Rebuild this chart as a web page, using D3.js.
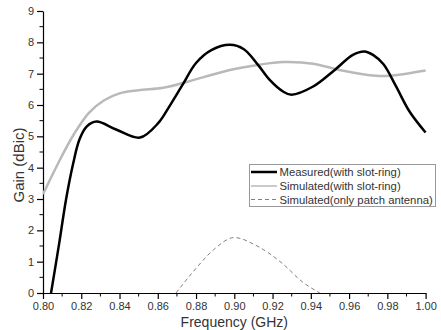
<!DOCTYPE html>
<html>
<head>
<meta charset="utf-8">
<script src="https://cdn.jsdelivr.net/npm/d3@7"></script>
<style>
  html, body { margin: 0; padding: 0; background: #fff; }
  svg { display: block; font-family: "Liberation Sans", Arial, sans-serif; }
</style>
</head>
<body>
<svg id="chart" width="441" height="330"></svg>
<script>
// ---- data ----
const measuredFreq = [0.8042, 0.8085, 0.812, 0.8158, 0.819, 0.8228, 0.828, 0.8385, 0.8507, 0.8602, 0.866, 0.873, 0.880, 0.888, 0.8977, 0.905, 0.9124, 0.9185, 0.9255, 0.9299, 0.9412, 0.9525, 0.962, 0.968, 0.9725, 0.978, 0.9845, 0.9915, 1.0];
const measuredGain = [0, 1.6, 2.97, 4.14, 4.89, 5.31, 5.47, 5.21, 4.96, 5.42, 5.95, 6.65, 7.34, 7.75, 7.92, 7.78, 7.28, 6.8, 6.43, 6.33, 6.59, 7.12, 7.6, 7.71, 7.6, 7.3, 6.6, 5.8, 5.12];

const simRingFreq = [0.800, 0.808, 0.816, 0.824, 0.832, 0.840, 0.850, 0.8628, 0.873, 0.8977, 0.9124, 0.9255, 0.9412, 0.955, 0.9742, 0.9812, 1.0];
const simRingGain = [3.15, 4.15, 5.05, 5.75, 6.15, 6.37, 6.47, 6.55, 6.70, 7.12, 7.28, 7.37, 7.32, 7.12, 6.93, 6.93, 7.10];

const simPatchFreq = [0.8695, 0.8785, 0.889, 0.900, 0.911, 0.925, 0.9355, 0.9447];
const simPatchGain = [0, 0.68, 1.37, 1.77, 1.53, 0.95, 0.36, 0];

const xTicks = [0.80, 0.82, 0.84, 0.86, 0.88, 0.90, 0.92, 0.94, 0.96, 0.98, 1.00];
const yTicks = [0, 1, 2, 3, 4, 5, 6, 7, 8, 9];
const legendLabels = ["Measured(with slot-ring)", "Simulated(with slot-ring)", "Simulated(only patch antenna)"];

// ---- layout ----
const svg = d3.select("#chart");
const pLeft = 43, pRight = 425.6, pTop = 11, pBottom = 293;
const x = d3.scaleLinear().domain([0.80, 1.00]).range([pLeft, pRight]);
const y = d3.scaleLinear().domain([0, 9]).range([pBottom, pTop]);

const textColor = "#333";

// minor ticks
const xMinor = d3.range(0, 21).map(i => 0.80 + i * 0.01).filter((v, i) => i % 2 === 1);
const yMinor = d3.range(0, 9).map(i => i + 0.5);

svg.append("g").selectAll("line").data(xMinor).join("line")
  .attr("x1", d => x(d)).attr("x2", d => x(d))
  .attr("y1", pBottom).attr("y2", pBottom + 3.5)
  .attr("stroke", "#000").attr("stroke-width", 1);
svg.append("g").selectAll("line").data(yMinor).join("line")
  .attr("y1", d => y(d)).attr("y2", d => y(d))
  .attr("x1", pLeft).attr("x2", pLeft - 3.5)
  .attr("stroke", "#000").attr("stroke-width", 1);

// axes
const xAxis = svg.append("g").attr("transform", `translate(0,${pBottom})`)
  .call(d3.axisBottom(x).tickValues(xTicks).tickFormat(d3.format(".2f")).tickSize(6).tickPadding(3).tickSizeOuter(0));
const yAxis = svg.append("g").attr("transform", `translate(${pLeft},0)`)
  .call(d3.axisLeft(y).tickValues(yTicks).tickFormat(d3.format("d")).tickSize(6).tickPadding(3).tickSizeOuter(0));
[xAxis, yAxis].forEach(a => {
  a.select(".domain").attr("stroke", "#000").attr("stroke-width", 1.2);
  a.selectAll(".tick line").attr("stroke", "#000").attr("stroke-width", 1.2);
  a.selectAll(".tick text").attr("fill", textColor).attr("font-size", 11)
    .attr("font-family", "Liberation Sans, Arial, sans-serif");
});

// axis titles
svg.append("text")
  .attr("x", (pLeft + pRight) / 2).attr("y", 326.5)
  .attr("text-anchor", "middle").attr("font-size", 14).attr("fill", textColor)
  .text("Frequency (GHz)");
svg.append("text")
  .attr("transform", `translate(24,${(pTop + pBottom) / 2 + 13}) rotate(-90)`)
  .attr("text-anchor", "middle").attr("font-size", 15).attr("fill", textColor)
  .text("Gain (dBic)");

// lines
svg.append("clipPath").attr("id", "plotclip")
  .append("rect").attr("x", pLeft).attr("y", pTop - 5).attr("width", pRight - pLeft + 2).attr("height", pBottom - pTop + 5);

const lineGen = curve => d3.line().x(d => x(d[0])).y(d => y(d[1])).curve(curve);

const gLines = svg.append("g").attr("clip-path", "url(#plotclip)");
gLines.append("path")
  .datum(d3.zip(simPatchFreq, simPatchGain))
  .attr("d", lineGen(d3.curveMonotoneX))
  .attr("fill", "none").attr("stroke", "#808080").attr("stroke-width", 1)
  .attr("stroke-dasharray", "4,3");
gLines.append("path")
  .datum(d3.zip(simRingFreq, simRingGain))
  .attr("d", lineGen(d3.curveCatmullRom.alpha(0.5)))
  .attr("fill", "none").attr("stroke", "#b9b9b9").attr("stroke-width", 2.5);
gLines.append("path")
  .datum(d3.zip(measuredFreq, measuredGain))
  .attr("d", lineGen(d3.curveCatmullRom.alpha(0.5)))
  .attr("fill", "none").attr("stroke", "#000").attr("stroke-width", 2.5);

// legend
const lg = svg.append("g");
lg.append("rect").attr("x", 249.5).attr("y", 164.5).attr("width", 186).attr("height", 42)
  .attr("fill", "#fff").attr("stroke", "#999").attr("stroke-width", 1);
const lgStyles = [
  { stroke: "#000", width: 2.5, dash: null },
  { stroke: "#b9b9b9", width: 1.5, dash: null },
  { stroke: "#808080", width: 1, dash: "4,3" }
];
const rowY = [172, 186, 199.5];
legendLabels.forEach((lab, i) => {
  lg.append("line").attr("x1", 251).attr("x2", 277).attr("y1", rowY[i]).attr("y2", rowY[i])
    .attr("stroke", lgStyles[i].stroke).attr("stroke-width", lgStyles[i].width)
    .attr("stroke-dasharray", lgStyles[i].dash);
  lg.append("text").attr("x", 279.5).attr("y", rowY[i]).attr("dy", "0.36em")
    .attr("font-size", 11.3).attr("fill", textColor).text(lab);
});
</script>
</body>
</html>
